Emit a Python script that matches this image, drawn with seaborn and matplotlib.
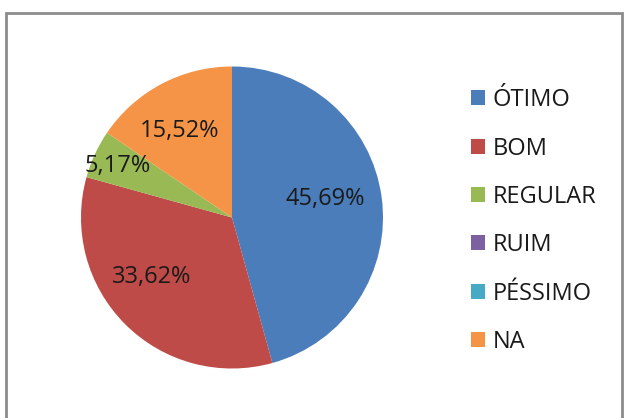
import matplotlib
matplotlib.use("Agg")
import matplotlib.pyplot as plt
import matplotlib.patches as mpatches
import numpy as np
import seaborn as sns

# data
categories = ["ÓTIMO", "BOM", "REGULAR", "RUIM", "PÉSSIMO", "NA"]
percentages = [45.69, 33.62, 5.17, 0.0, 0.0, 15.52]
colors = ["#4A7DBA", "#BE4B48", "#98B954", "#7D60A0", "#46AAC5", "#F59446"]

# placement of each value label: fraction of radius, angle nudge in degrees
label_dist = [0.63, 0.66, 0.83, 0.6, 0.6, 0.67]
label_turn = [3.5, -8.5, 0.8, 0.0, 0.0, 3.0]

sns.set_theme(style="white")
plt.rcParams["font.family"] = ["Open Sans", "DejaVu Sans"]

W, H = 624, 418
fig = plt.figure(figsize=(W / 100, H / 100), dpi=100)
fig.patch.set_facecolor("white")

# outer chart frame
frame = mpatches.Rectangle((6 / W, -0.02), 616 / W, (H - 12.5) / H + 0.02,
                           transform=fig.transFigure, fill=False,
                           edgecolor="#8c8c8c", linewidth=2)
fig.patches.append(frame)

# pie axes: centre (232, 217.5) px, radius 151 px
cx, cy, r = 232, 217.5, 151
ax = fig.add_axes([(cx - r) / W, (H - cy - r) / H, 2 * r / W, 2 * r / H])
wedges, _ = ax.pie(percentages, colors=colors, startangle=90, counterclock=False,
                   radius=1.0, wedgeprops=dict(linewidth=0))
ax.set_xlim(-1, 1)
ax.set_ylim(-1, 1)
ax.set_aspect("equal")
ax.axis("off")

for w, val, d, t in zip(wedges, percentages, label_dist, label_turn):
    if val <= 0:
        continue
    ang = np.deg2rad((w.theta1 + w.theta2) / 2 + t)
    ax.text(d * np.cos(ang), d * np.sin(ang), f"{val:.2f}%".replace(".", ","),
            ha="center", va="center", fontsize=17, color="#1a1a1a")

handles = [mpatches.Patch(facecolor=c, edgecolor="none") for c in colors]
fig.legend(handles, categories, loc="upper left",
           bbox_to_anchor=(450 / W, 1 - 67 / H), frameon=False,
           fontsize=17, handlelength=0.6, handleheight=0.6,
           handletextpad=0.3, labelspacing=1.03, labelcolor="#1a1a1a")

fig.savefig("out.png", dpi=100)
